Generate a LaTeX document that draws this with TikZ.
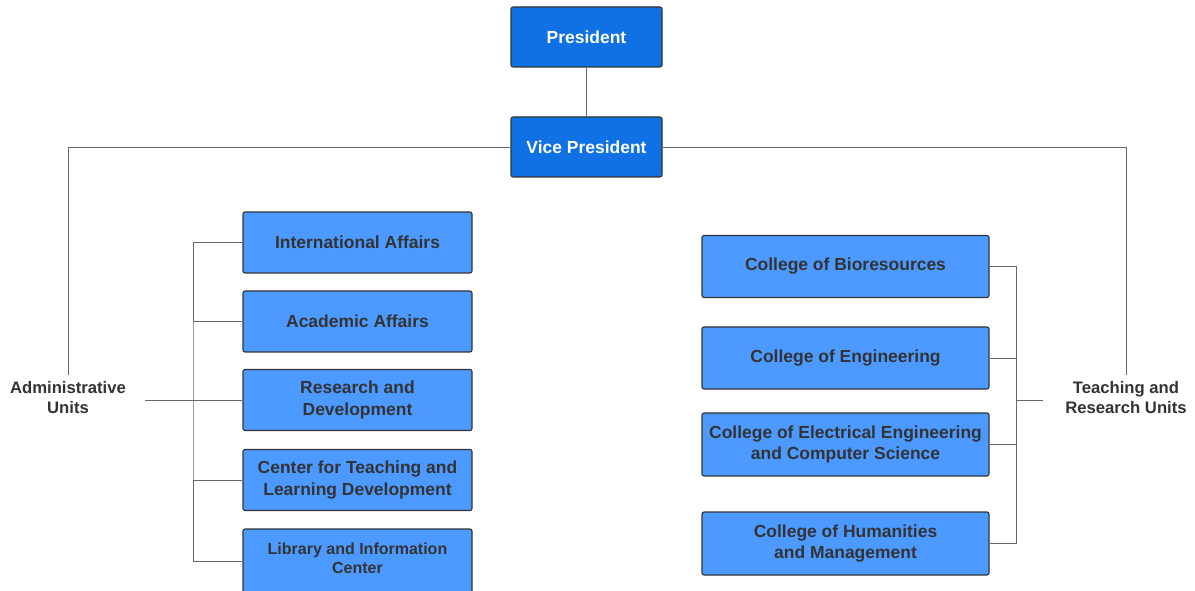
\documentclass[tikz,border=0pt]{standalone}
\usepackage{fontspec}
\setmainfont{Liberation Sans}
\definecolor{darkbox}{HTML}{1071E5}
\definecolor{lightbox}{HTML}{4C9AFF}
\definecolor{boxtext}{HTML}{333333}
\definecolor{linegray}{HTML}{666666}
\tikzset{
  topbox/.style={draw=boxtext, line width=0.8pt, fill=darkbox, rounded corners=1.5pt, minimum width=151*0.75pt, minimum height=60*0.75pt, text=white, font=\bfseries\fontsize{13.1}{15.8}\selectfont, align=center, inner sep=0pt},
  unitbox/.style={draw=boxtext, line width=0.8pt, fill=lightbox, rounded corners=1.5pt, minimum width=229*0.75pt, minimum height=61*0.75pt, text=boxtext, font=\bfseries\fontsize{13.1}{15.8}\selectfont, align=center, inner sep=0pt},
  collbox/.style={unitbox, minimum width=287*0.75pt, minimum height=62*0.75pt},
  grouplabel/.style={text=boxtext, font=\bfseries\fontsize{12.5}{15.5}\selectfont, align=center, inner sep=0pt},
  conn/.style={draw=linegray, line width=0.7pt}
}
\begin{document}
\begin{tikzpicture}[x=0.75pt,y=-0.75pt]
\useasboundingbox (0,0) rectangle (1195,591);
\clip (0,0) rectangle (1195,591);
% top
\node[topbox] (pres) at (586.5,37) {President};
\node[topbox] (vp) at (586.5,147) {Vice President};
% group labels
\node[grouplabel] (adm) at (68,397.5) {Administrative\\Units};
\node[grouplabel] (tru) at (1126,397.5) {Teaching and\\Research Units};
% left boxes
\node[unitbox] (ia) at (357.5,242.5) {International Affairs};
\node[unitbox] (aa) at (357.5,321.5) {Academic Affairs};
\node[unitbox] (rd) at (357.5,400) {Research and\\Development};
\node[unitbox] (ct) at (357.5,480) {Center for Teaching and\\Learning Development};
\node[unitbox, minimum height=64*0.75pt] (lib) at (357.5,561) {};
\node[text=boxtext, font=\bfseries\fontsize{12}{14.3}\selectfont, align=center, inner sep=0pt] (libt) at (357.5,558.5) {Library and Information\\Center};
% right boxes
\node[collbox] (bio) at (845.5,266.5) {College of Bioresources};
\node[collbox] (eng) at (845.5,358) {College of Engineering};
\node[collbox, minimum height=63*0.75pt] (eecs) at (845.5,444.5) {College of Electrical Engineering\\and Computer Science};
\node[collbox, minimum height=63*0.75pt] (hum) at (845.5,543.5) {College of Humanities\\and Management};
% coordinates
\coordinate (lbus) at (193,400);
\coordinate (rbus) at (1016,400);
\coordinate (admtop) at (68,375);
\coordinate (trutop) at (1126,375);
\coordinate (admright) at (145,400);
\coordinate (truleft) at (1043,400);
% connectors
\draw[conn] (pres.south) -- (vp.north);
\draw[conn] (vp.west) -| (admtop);
\draw[conn] (vp.east) -| (trutop);
\draw[conn] (admright) -- (rd.west);
\draw[conn] (ia.west) -| (lbus) |- (lib.west);
\draw[conn] (aa.west) -- (aa.west -| lbus);
\draw[conn] (ct.west) -- (ct.west -| lbus);
\draw[conn] (bio.east) -| (rbus) |- (hum.east);
\draw[conn] (eng.east) -- (eng.east -| rbus);
\draw[conn] (eecs.east) -- (eecs.east -| rbus);
\draw[conn] (rbus) -- (truleft);
\end{tikzpicture}
\end{document}
